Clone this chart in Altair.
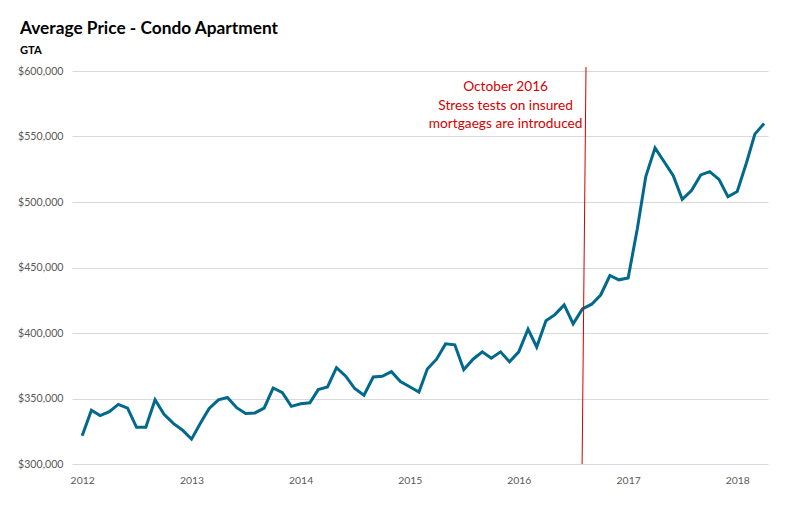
import altair as alt
import pandas as pd

# ---- data ----
months = pd.date_range("2012-01-01", "2018-04-01", freq="MS").strftime("%Y-%m-%dT00:00:00").tolist()
prices = [
    321500, 341000, 337000, 340000, 345500, 342700, 328000, 328000, 349000, 338000, 331000, 326000,
    319000, 331600, 342400, 349000, 350800, 343000, 338600, 339000, 342700, 358000, 354500, 344000,
    346000, 346700, 356800, 358800, 373500, 367000, 357600, 352500, 366400, 367000, 370500, 363000,
    359000, 355000, 372500, 380000, 391700, 391000, 372000, 380000, 385600, 380800, 385600, 378000,
    385600, 403000, 389300, 409400, 414000, 421400, 407000, 418400, 422000, 429000, 443900, 440600,
    442000, 480000, 519400, 541300, 530900, 520000, 502000, 508700, 520700, 523200, 517300, 504000,
    508000, 530000, 551800, 560000,
]
marker_dates = ["2016-07-31T00:00:00", "2016-08-13T00:00:00"]
marker_prices = [300000, 603000]
year_ticks = [alt.DateTime(year=y, month=1, date=1) for y in range(2012, 2019)]
price_ticks = [300000, 350000, 400000, 450000, 500000, 550000, 600000]
note_lines = ["October 2016", "Stress tests on insured", "mortgaegs are introduced"]
note_date = alt.DateTime(year=2015, month=11, date=18)
note_price = 587500

df = pd.DataFrame({"month": months, "price": prices})
mk = pd.DataFrame({"month": marker_dates, "price": marker_prices})
note_df = pd.DataFrame({"n": [0]})

FONT = "Lato"
x_scale = alt.Scale(domain=[alt.DateTime(year=2011, month=11, date=28),
                            alt.DateTime(year=2018, month=4, date=14)])
y_scale = alt.Scale(domain=[300000, 600000], nice=False, zero=False)

line = alt.Chart(df).mark_line(color="#00698C", strokeWidth=3).encode(
    x=alt.X("month:T", scale=x_scale, title=None,
            axis=alt.Axis(values=year_ticks, format="%Y", grid=False, domain=False,
                          ticks=False, labelPadding=11, labelFontSize=10.4)),
    y=alt.Y("price:Q", scale=y_scale, title=None,
            axis=alt.Axis(values=price_ticks, format="$,.0f", grid=True, domain=False,
                          ticks=False, labelPadding=9, labelFontSize=10.6)),
)

marker = alt.Chart(mk).mark_line(color="#D00000", strokeWidth=1, clip=False).encode(
    x=alt.X("month:T", scale=x_scale),
    y=alt.Y("price:Q", scale=y_scale),
)

note = alt.Chart(note_df).mark_text(
    color="#D40000", fontSize=13.7, font=FONT, align="center", baseline="middle", lineHeight=18.5
).encode(
    x=alt.datum(note_date),
    y=alt.datum(note_price),
    text=alt.value(note_lines),
)

chart = alt.layer(line, marker, note).properties(
    width=696, height=393, autosize="none",
    padding={"left": 64, "top": 63, "right": 32, "bottom": 33},
    title=alt.TitleParams(
        text="Average Price - Condo Apartment", subtitle="GTA", anchor="start", frame="group",
        dx=-52, fontSize=17.3, fontWeight="bold", font=FONT, color="black",
        subtitleFont=FONT, subtitleFontSize=11.2, subtitleFontWeight="bold", subtitleColor="black",
        offset=9, subtitlePadding=8,
    ),
).configure_view(stroke=None).configure_axis(
    labelFont=FONT, labelColor="#595959", gridColor="#D9D9D9", gridWidth=1,
)

chart.save("out.html", embed_options={"renderer": "svg", "actions": False})
